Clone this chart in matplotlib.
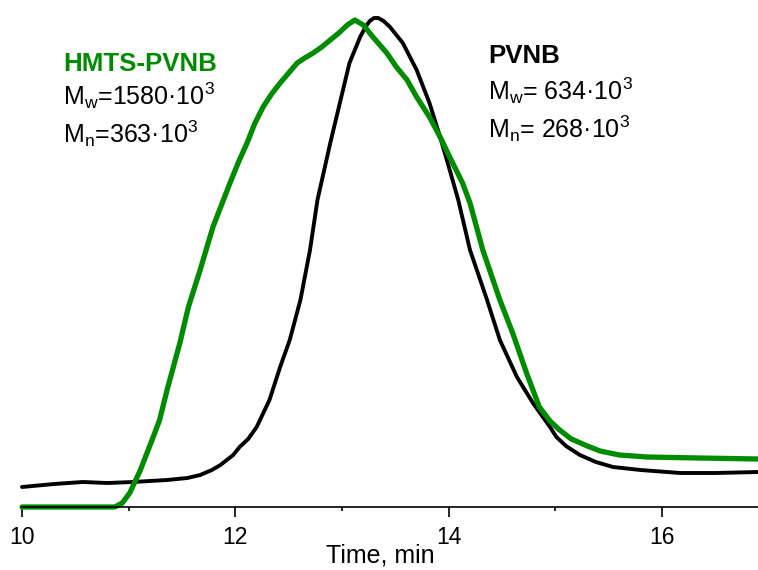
import matplotlib
matplotlib.use("Agg")
import matplotlib.pyplot as plt

plt.rcParams["font.family"] = ["Liberation Sans", "DejaVu Sans"]
plt.rcParams["mathtext.fontset"] = "custom"
plt.rcParams["mathtext.rm"] = "Liberation Sans"

# ==================== DATA ====================
# PVNB (black trace), time in min, detector signal in arbitrary units
pvnb_time = [10.00, 10.30, 10.57, 10.80, 11.04, 11.36, 11.55, 11.67, 11.78, 11.86,
             11.98, 12.04, 12.12, 12.20, 12.32, 12.42, 12.51, 12.61, 12.70, 12.77,
             12.89, 12.98, 13.07, 13.17, 13.22, 13.26, 13.30, 13.34, 13.39, 13.45,
             13.57, 13.70, 13.82, 13.92, 14.01, 14.09, 14.20, 14.36, 14.48, 14.64,
             14.79, 14.95, 15.01, 15.10, 15.23, 15.38, 15.54, 15.80, 16.17, 16.50,
             16.90]
pvnb_signal = [20, 23, 25, 24, 25, 27, 29, 32, 37, 42,
               52, 60, 68, 80, 107, 140, 167, 207, 257, 307,
               364, 404, 444, 470, 480, 486, 489, 489, 486, 480,
               464, 437, 404, 370, 337, 307, 257, 207, 167, 130,
               104, 80, 70, 61, 52, 45, 40, 37, 34, 34,
               35]

# HMTS-PVNB (green trace)
hmts_time = [10.00, 10.87, 10.94, 11.01, 11.11, 11.23, 11.29, 11.36, 11.48, 11.56,
             11.67, 11.79, 11.95, 12.03, 12.11, 12.18, 12.26, 12.34, 12.42, 12.50,
             12.58, 12.65, 12.73, 12.81, 12.89, 12.97, 13.05, 13.12, 13.20, 13.29,
             13.42, 13.51, 13.61, 13.70, 13.82, 13.92, 14.01, 14.13, 14.20, 14.32,
             14.48, 14.60, 14.73, 14.85, 14.95, 15.04, 15.15, 15.30, 15.42, 15.60,
             15.86, 16.35, 16.90]
hmts_signal = [0, 0, 4, 14, 37, 70, 87, 117, 164, 200,
               237, 280, 324, 345, 364, 383, 400, 413, 424, 434,
               444, 449, 454, 460, 467, 474, 482, 487, 482, 470,
               454, 440, 427, 410, 390, 370, 350, 324, 304, 257,
               207, 174, 134, 100, 86, 77, 68, 61, 56, 52,
               50, 49, 48]

x_ticks = [10, 12, 14, 16]
green = "#008c00"

# ==================== PLOT ====================
fig = plt.figure(figsize=(7.58, 5.70), dpi=100)
ax = fig.add_axes([22 / 758, 1 - 507 / 570, 1 - 22 / 758, 507 / 570])

ax.plot(pvnb_time, pvnb_signal, color="black", lw=2.8, solid_joinstyle="round",
        solid_capstyle="round", clip_on=False)
ax.plot(hmts_time, hmts_signal, color=green, lw=3.8, solid_joinstyle="round",
        solid_capstyle="round", clip_on=False)

ax.set_xlim(10, 16.9)
ax.set_ylim(0, 507)
ax.set_xticks(x_ticks)
ax.set_xticks([11, 13, 15], minor=True)
ax.tick_params(axis="x", which="major", length=7, width=1.2, pad=7, labelsize=16.5)
ax.tick_params(axis="x", which="minor", length=3, width=1.2)
ax.set_yticks([])
for side in ["left", "right", "top"]:
    ax.spines[side].set_visible(False)
ax.spines["bottom"].set_linewidth(1.2)

fig.text(380 / 758, 1 - 563 / 570, "Time, min", ha="center", va="baseline", fontsize=18)


def fpos(px, py):
    return px / 758, 1 - py / 570


fig.text(*fpos(63, 71), "HMTS-PVNB", color=green, fontsize=18.6, fontweight="bold", va="baseline")
fig.text(*fpos(63, 105), r"M$_\mathregular{w}$=1580·10$^\mathregular{3}$", fontsize=18, va="baseline")
fig.text(*fpos(63, 143), r"M$_\mathregular{n}$=363·10$^\mathregular{3}$", fontsize=18, va="baseline")

fig.text(*fpos(488, 63), "PVNB", color="black", fontsize=18.6, fontweight="bold", va="baseline")
fig.text(*fpos(488, 100), r"M$_\mathregular{w}$= 634·10$^\mathregular{3}$", fontsize=18, va="baseline")
fig.text(*fpos(488, 138), r"M$_\mathregular{n}$= 268·10$^\mathregular{3}$", fontsize=18, va="baseline")

fig.savefig("out.png", dpi=100)
